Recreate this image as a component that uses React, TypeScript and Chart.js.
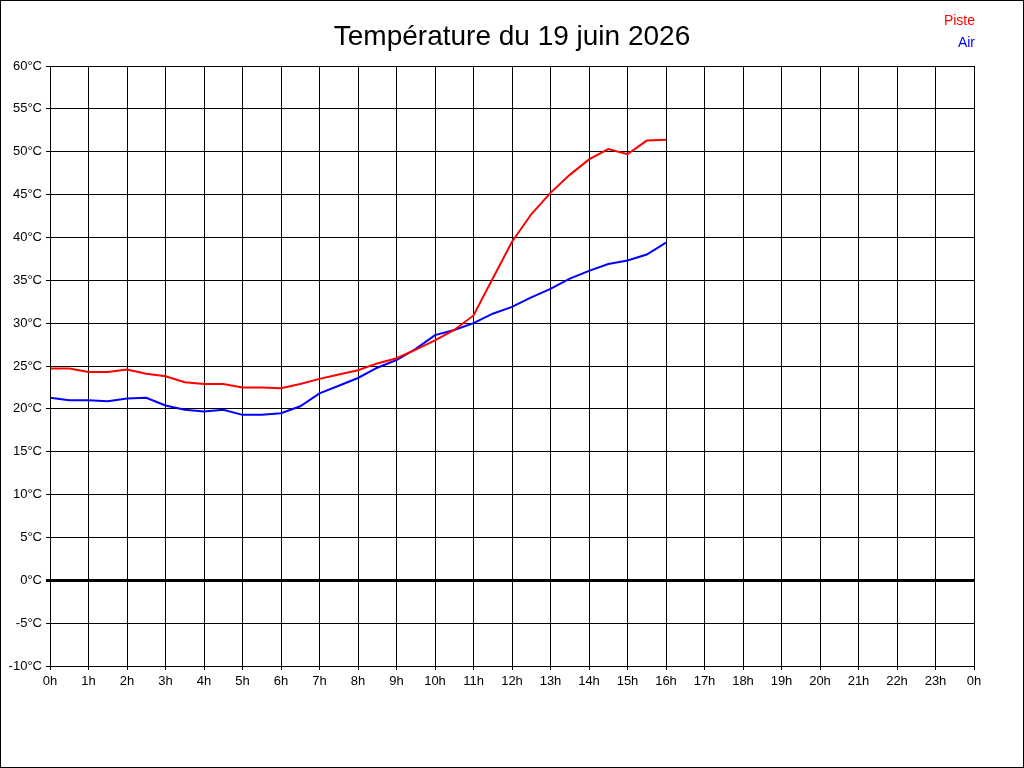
import React, { useEffect, useRef } from "react";
import { Chart, registerables } from "chart.js";
Chart.register(...registerables);

const hours = [0,0.5,1,1.5,2,2.5,3,3.5,4,4.5,5,5.5,6,6.5,7,7.5,8,8.5,9,9.5,10,10.5,11,11.5,12,12.5,13,13.5,14,14.5,15,15.5,16];
const piste = [24.7,24.7,24.3,24.3,24.6,24.1,23.8,23.1,22.9,22.9,22.5,22.5,22.4,22.9,23.5,24.0,24.5,25.3,25.9,26.9,28.0,29.2,30.9,35.2,39.5,42.7,45.2,47.3,49.1,50.3,49.7,51.3,51.4];
const air = [21.3,21.0,21.0,20.9,21.2,21.3,20.4,19.9,19.7,19.9,19.3,19.3,19.5,20.3,21.8,22.7,23.6,24.8,25.7,27.0,28.6,29.2,30.0,31.1,31.9,33.0,34.0,35.2,36.1,36.9,37.3,38.0,39.4];
const title = "Température du 19 juin 2026";
const seriesNames = ["Piste", "Air"];
const seriesColors = ["#ff0000", "#0000ff"];

export default function App() {
  const ref = useRef<HTMLCanvasElement>(null);
  useEffect(() => {
    const deco = {
      id: "deco",
      afterDraw(c: any) {
        const ctx = c.ctx;
        const a = c.chartArea;
        ctx.save();
        ctx.strokeStyle = "#000";
        ctx.lineWidth = 1;
        ctx.strokeRect(a.left + 0.5, a.top + 0.5, a.right - a.left, a.bottom - a.top);
        ctx.strokeRect(0.5, 0.5, 1023, 767);
        ctx.fillStyle = "#000";
        ctx.font = "28px 'Liberation Sans', Arial, sans-serif";
        ctx.textAlign = "center";
        ctx.textBaseline = "middle";
        ctx.fillText(title, 512, 37);
        ctx.font = "14px 'Liberation Sans', Arial, sans-serif";
        ctx.textAlign = "right";
        seriesNames.forEach((n, i) => {
          ctx.fillStyle = seriesColors[i];
          ctx.fillText(n, 975, 21 + i * 22);
        });
        ctx.restore();
      },
    };
    const chart = new Chart(ref.current!, {
      type: "line",
      data: {
        datasets: [
          { label: seriesNames[0], data: hours.map((h, i) => ({ x: h, y: piste[i] })), borderColor: seriesColors[0], borderWidth: 2, pointRadius: 0, tension: 0 },
          { label: seriesNames[1], data: hours.map((h, i) => ({ x: h, y: air[i] })), borderColor: seriesColors[1], borderWidth: 2, pointRadius: 0, tension: 0 },
        ],
      },
      options: {
        animation: false,
        responsive: false,
        layout: { padding: { top: 66, right: 50, left: 0, bottom: 0 } },
        plugins: { legend: { display: false }, tooltip: { enabled: false } },
        scales: {
          x: {
            type: "linear", min: 0, max: 24,
            afterFit: (s: any) => { s.height = 102; },
            ticks: { stepSize: 1, color: "#000", font: { size: 13, family: "'Liberation Sans', Arial" }, padding: 4, maxRotation: 0, callback: (v: any) => `${v % 24}h` },
            grid: { color: "#000", lineWidth: 1, tickLength: 4 },
            border: { display: false },
          },
          y: {
            min: -10, max: 60,
            afterFit: (s: any) => { s.width = 50; },
            ticks: { stepSize: 5, color: "#000", font: { size: 13, family: "'Liberation Sans', Arial" }, padding: 4, callback: (v: any) => `${v}°C` },
            grid: { color: "#000", lineWidth: (c: any) => (c.tick && c.tick.value === 0 ? 3 : 1), tickLength: 4 },
            border: { display: false },
          },
        },
      },
      plugins: [deco],
    });
    return () => chart.destroy();
  }, []);
  return (
    <div style={{ position: "absolute", left: 0, top: 0, width: 1024, height: 768, background: "#fff" }}>
      <canvas ref={ref} width={1024} height={768} style={{ width: 1024, height: 768 }} />
    </div>
  );
}
